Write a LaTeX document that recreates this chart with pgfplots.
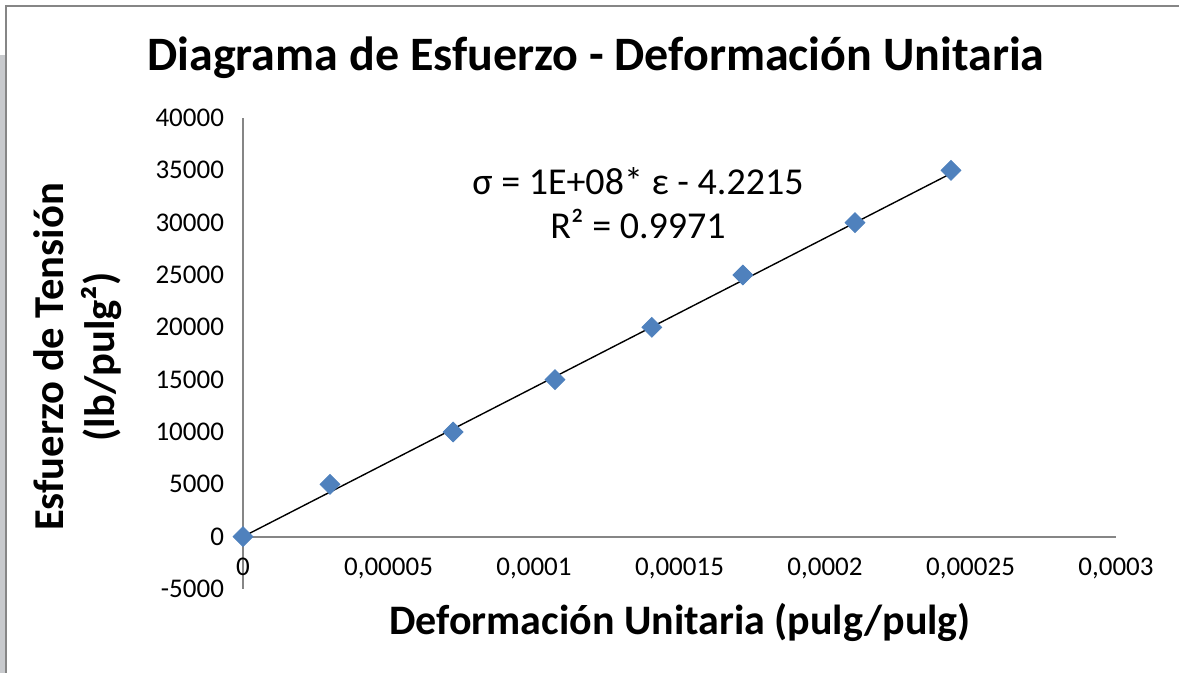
\documentclass[border=0pt]{standalone}
\usepackage{fontspec}
\setmainfont{Carlito}
\usepackage{pgfplots}
\pgfplotsset{compat=1.18}
\definecolor{MarkBlue}{HTML}{4F81BD}
\definecolor{AxGray}{HTML}{868686}
\definecolor{EdgeGray}{HTML}{C8CACD}

\begin{document}
\begin{tikzpicture}[x=1pt,y=1pt]
\useasboundingbox (0,0) rectangle (589.5,336.5);
% chart frame (cropped Excel chart area)
\fill[EdgeGray] (0,0) rectangle (2.5,309);
\draw[AxGray,line width=1pt] (3.2,0) -- (3.2,333.5) -- (589.5,333.5);

\begin{axis}[
    at={(121.5pt,42pt)}, anchor=south west,
    scale only axis,
    width=436.5pt, height=235.5pt,
    xmin=0, xmax=0.0003,
    ymin=-5000, ymax=40000,
    axis x line=middle, axis y line=left,
    axis line style={AxGray,line width=0.9pt,-},
    major tick length=0pt,
    scaled ticks=false,
    hide obscured x ticks=false,
    xtick={0,0.00005,0.0001,0.00015,0.0002,0.00025,0.0003},
    xticklabels={{0},{0,00005},{0,0001},{0,00015},{0,0002},{0,00025},{0,0003}},
    ytick={-5000,0,5000,10000,15000,20000,25000,30000,35000,40000},
    yticklabels={-5000,0,5000,10000,15000,20000,25000,30000,35000,40000},
    xticklabel style={font=\fontsize{13.5}{15}\selectfont,anchor=north,yshift=-7pt},
    yticklabel style={font=\fontsize{13.5}{15}\selectfont,anchor=east,xshift=-6pt},
    clip=false,
]
% linear trendline
\addplot[black,line width=0.7pt] coordinates {(0,-4.2) (0.0002433,34700)};
% measured points
\addplot[only marks,mark=square*,
         mark options={rotate=45,fill=MarkBlue,draw=MarkBlue},mark size=3.5pt]
  coordinates {
    (0,0) (0.0000299,5000) (0.0000722,10000) (0.0001072,15000)
    (0.0001405,20000) (0.0001718,25000) (0.0002103,30000) (0.0002433,35000)
  };
\end{axis}

\node[font=\fontsize{24}{28}\selectfont\bfseries] at (298,307.5)
  {Diagrama de Esfuerzo - Deformación Unitaria};
\node[font=\fontsize{21}{24}\selectfont\bfseries] at (340,25.5)
  {Deformación Unitaria (pulg/pulg)};
\node[font=\fontsize{21.3}{25.5}\selectfont\bfseries,rotate=90,align=center] at (39,158)
  {Esfuerzo de Tensión\\(lb/pulg²)};
\node[font=\fontsize{19}{22}\selectfont,align=center] at (319,235)
  {σ = 1E+08* ε - 4.2215\\R² = 0.9971};
\end{tikzpicture}
\end{document}
